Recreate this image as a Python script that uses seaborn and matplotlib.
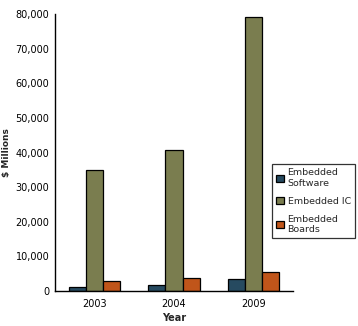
import matplotlib
matplotlib.use("Agg")
import matplotlib.pyplot as plt
import seaborn as sns
import pandas as pd
from matplotlib.ticker import FuncFormatter

years = ["2003", "2004", "2009"]
series = ["Embedded\nSoftware", "Embedded IC", "Embedded\nBoards"]
software = [1100, 1650, 3400]
ic = [35000, 40700, 79000]
boards = [3000, 3700, 5400]
colors = ["#264a60", "#7a7d4f", "#c0551a"]

rows = []
for s, vals in zip(series, [software, ic, boards]):
    for y, v in zip(years, vals):
        rows.append({"Year": y, "Series": s, "Value": v})
df = pd.DataFrame(rows)

sns.set_theme(style="white")
plt.rcParams["font.family"] = ["DejaVu Sans"]

fig = plt.figure(figsize=(3.58, 3.26), dpi=100)
ax = fig.add_axes([0.1536, 0.1074, 0.6648, 0.8496])
sns.barplot(data=df, x="Year", y="Value", hue="Series", hue_order=series,
            palette=colors, saturation=1, width=0.65, gap=0, edgecolor="black",
            linewidth=0.9, ax=ax, legend=True)
ax.set_ylim(0, 80000)
ax.set_xlim(-0.5, 2.5)
ax.set_yticks(range(0, 80001, 10000))
ax.yaxis.set_major_formatter(FuncFormatter(lambda v, p: f"{int(v):,}"))
for s in ["top", "right"]:
    ax.spines[s].set_visible(False)
for s in ["left", "bottom"]:
    ax.spines[s].set_color("black")
    ax.spines[s].set_linewidth(1.0)
ax.tick_params(axis="y", left=False, length=0, labelsize=7, colors="black", pad=4)
ax.tick_params(axis="x", bottom=False, length=0, labelsize=7, colors="black", pad=6)
ax.set_xlabel("Year", fontsize=7, fontweight="bold", labelpad=3)
ax.set_ylabel("$ Millions", fontsize=6.5, fontweight="bold", labelpad=3)

handles, labels = ax.get_legend_handles_labels()
ax.get_legend().remove()
leg = fig.legend(handles, labels, loc="upper left", bbox_to_anchor=(272/358, 1-164/326),
                 fontsize=6.8, frameon=True, fancybox=False, edgecolor="black",
                 handlelength=0.8, handleheight=0.8, handletextpad=0.4,
                 borderpad=0.45, labelspacing=0.95, borderaxespad=0)
leg.get_frame().set_linewidth(0.9)

fig.savefig("out.png", dpi=100)
